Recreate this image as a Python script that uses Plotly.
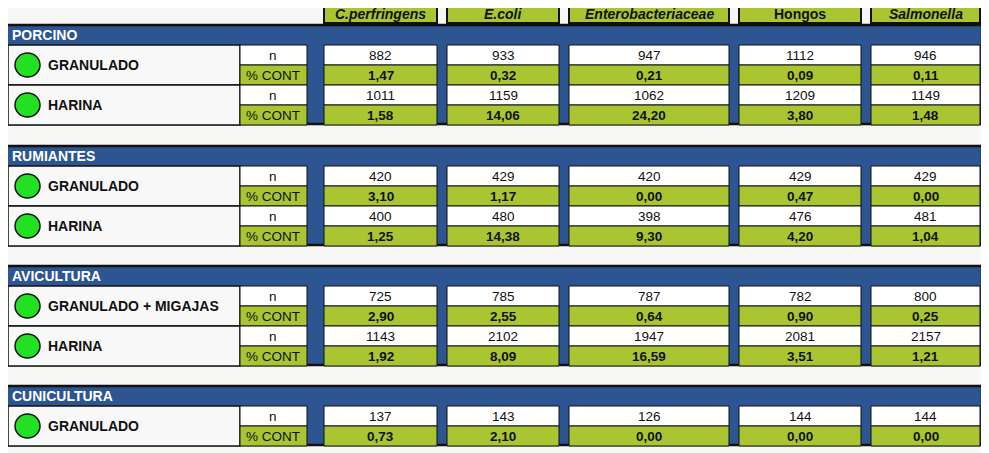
import plotly.graph_objects as go

# datos
bacterias = ["C.perfringens", "E.coli", "Enterobacteriaceae", "Hongos", "Salmonella"]
italica = [True, True, True, False, True]
sectores = ["PORCINO", "RUMIANTES", "AVICULTURA", "CUNICULTURA"]
presentaciones = [
    ["GRANULADO", "HARINA"],
    ["GRANULADO", "HARINA"],
    ["GRANULADO + MIGAJAS", "HARINA"],
    ["GRANULADO"],
]
n_valores = [
    [[882, 933, 947, 1112, 946], [1011, 1159, 1062, 1209, 1149]],
    [[420, 429, 420, 429, 429], [400, 480, 398, 476, 481]],
    [[725, 785, 787, 782, 800], [1143, 2102, 1947, 2081, 2157]],
    [[137, 143, 126, 144, 144]],
]
cont_valores = [
    [["1,47", "0,32", "0,21", "0,09", "0,11"], ["1,58", "14,06", "24,20", "3,80", "1,48"]],
    [["3,10", "1,17", "0,00", "0,47", "0,00"], ["1,25", "14,38", "9,30", "4,20", "1,04"]],
    [["2,90", "2,55", "0,64", "0,90", "0,25"], ["1,92", "8,09", "16,59", "3,51", "1,21"]],
    [["0,73", "2,10", "0,00", "0,00", "0,00"]],
]

AZUL = "#2d5592"
VERDE = "#a9c532"
NEGRO = "#111111"
col_x = [(324, 437), (447, 559), (569, 729), (739, 861), (871, 980)]
bloque_y = [25, 146, 266, 386]
RH = 20

shapes, annots = [], []


def rect(x0, y0, x1, y1, fill, lw=1.5):
    shapes.append(dict(type="rect", x0=x0, y0=y0, x1=x1, y1=y1, fillcolor=fill,
                       line=dict(color=NEGRO, width=lw), layer="below"))


def texto(x, y, t, size=13.5, bold=False, ital=False, color="#111", anchor="center"):
    if bold:
        t = "<b>" + t + "</b>"
    if ital:
        t = "<i>" + t + "</i>"
    annots.append(dict(x=x, y=y, text=t, showarrow=False, xanchor=anchor,
                       font=dict(family="Arial, Liberation Sans", size=size, color=color)))


# cabecera
for (x0, x1), b, it in zip(col_x, bacterias, italica):
    rect(x0, 5, x1, 23, VERDE, 2)
    texto((x0 + x1) / 2, 14, b, 14, True, it)

for s, sector in enumerate(sectores):
    top = bloque_y[s]
    filas = len(presentaciones[s])
    bottom = top + 19 + filas * 2 * RH
    rect(6, top, 982, bottom, AZUL, 2.5)
    texto(10, top + 9.5, sector, 14, True, color="white", anchor="left")
    for g, pres in enumerate(presentaciones[s]):
        y0 = top + 20 + g * 2 * RH
        rect(8, y0, 240, y0 + 2 * RH, "#f8f8f8", 1.5)
        shapes.append(dict(type="circle", x0=15, y0=y0 + 8, x1=40, y1=y0 + 32,
                           fillcolor="#22e022", line=dict(color=NEGRO, width=1.5)))
        texto(46, y0 + RH, pres, 14, True, anchor="left")
        rect(240, y0, 307, y0 + RH, "white", 1)
        rect(240, y0 + RH, 307, y0 + 2 * RH, VERDE, 1)
        texto(273, y0 + RH / 2, "n")
        texto(273, y0 + 1.5 * RH, "% CONT")
        for c, (x0, x1) in enumerate(col_x):
            rect(x0, y0, x1, y0 + RH, "white", 1)
            rect(x0, y0 + RH, x1, y0 + 2 * RH, VERDE, 1)
            texto((x0 + x1) / 2, y0 + RH / 2, str(n_valores[s][g][c]))
            texto((x0 + x1) / 2, y0 + 1.5 * RH, cont_valores[s][g][c], 13.5, True)

fig = go.Figure()
fig.update_layout(
    width=989, height=453, margin=dict(l=0, r=0, t=0, b=0),
    paper_bgcolor="#f6f6f4", plot_bgcolor="#f6f6f4",
    xaxis=dict(range=[8, 997], visible=False, fixedrange=True),
    yaxis=dict(range=[461, 8], visible=False, fixedrange=True),
    shapes=shapes, annotations=annots, showlegend=False,
)
fig.write_html("out.html")
